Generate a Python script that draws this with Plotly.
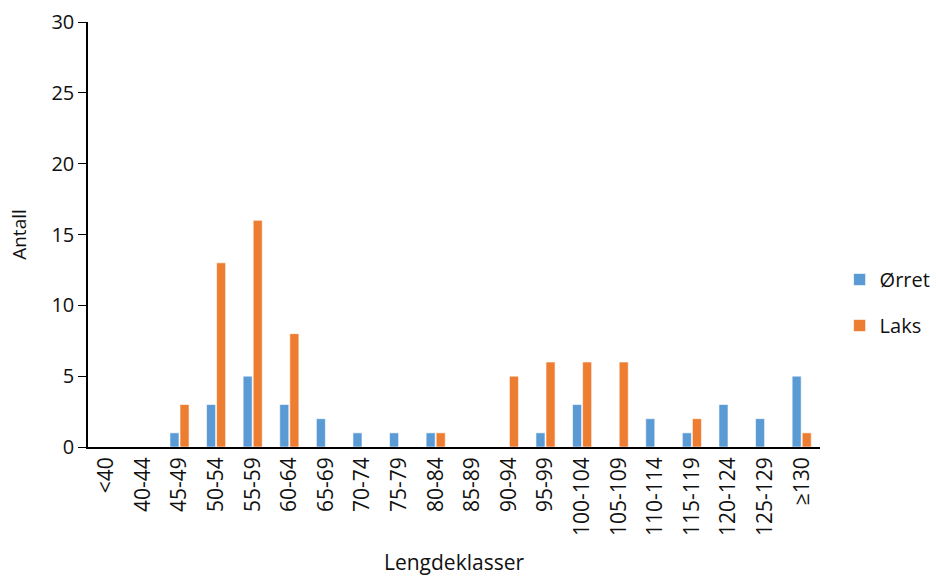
import plotly.graph_objects as go

categories = ["<40", "40-44", "45-49", "50-54", "55-59", "60-64", "65-69", "70-74",
              "75-79", "80-84", "85-89", "90-94", "95-99", "100-104", "105-109",
              "110-114", "115-119", "120-124", "125-129", "≥130"]
orret = [0, 0, 1, 3, 5, 3, 2, 1, 1, 1, 0, 0, 1, 3, 0, 2, 1, 3, 2, 5]
laks = [0, 0, 3, 13, 16, 8, 0, 0, 0, 1, 0, 5, 6, 6, 6, 0, 2, 0, 0, 1]

FONT = "Open Sans"
TXT = "#111111"

fig = go.Figure()
fig.add_trace(go.Bar(x=categories, y=orret, name="Ørret", legendgroup="a",
                     marker=dict(color="#5B9BD5", line=dict(color="rgba(255,255,255,0.6)", width=1))))
fig.add_trace(go.Bar(x=categories, y=laks, name="Laks", legendgroup="b",
                     marker=dict(color="#ED7D31", line=dict(color="rgba(255,255,255,0.6)", width=1))))

fig.update_layout(
    width=936, height=576,
    margin=dict(l=88, r=116, t=22, b=129, autoexpand=False),
    paper_bgcolor="white", plot_bgcolor="white",
    font=dict(family=FONT, size=20, color=TXT),
    barmode="group", bargap=0.45, bargroupgap=0.1,
    showlegend=True,
    legend=dict(xref="container", x=0.897, y=0.34, xanchor="left", yanchor="middle",
                font=dict(size=20), itemwidth=30, tracegroupgap=17),
    xaxis=dict(
        title=dict(text="Lengdeklasser", font=dict(size=21), standoff=22),
        tickangle=-90, showline=True, linecolor="black", linewidth=1.5,
        ticks="", showgrid=False, tickfont=dict(size=21),
    ),
    yaxis=dict(
        title=dict(text="Antall", font=dict(size=19), standoff=20),
        range=[0, 30], dtick=5, showline=True, linecolor="black", linewidth=1.5,
        ticks="outside", ticklen=8, tickcolor="black", showgrid=False,
        zeroline=False, tickfont=dict(size=20),
    ),
)

fig.write_html("out.html")
